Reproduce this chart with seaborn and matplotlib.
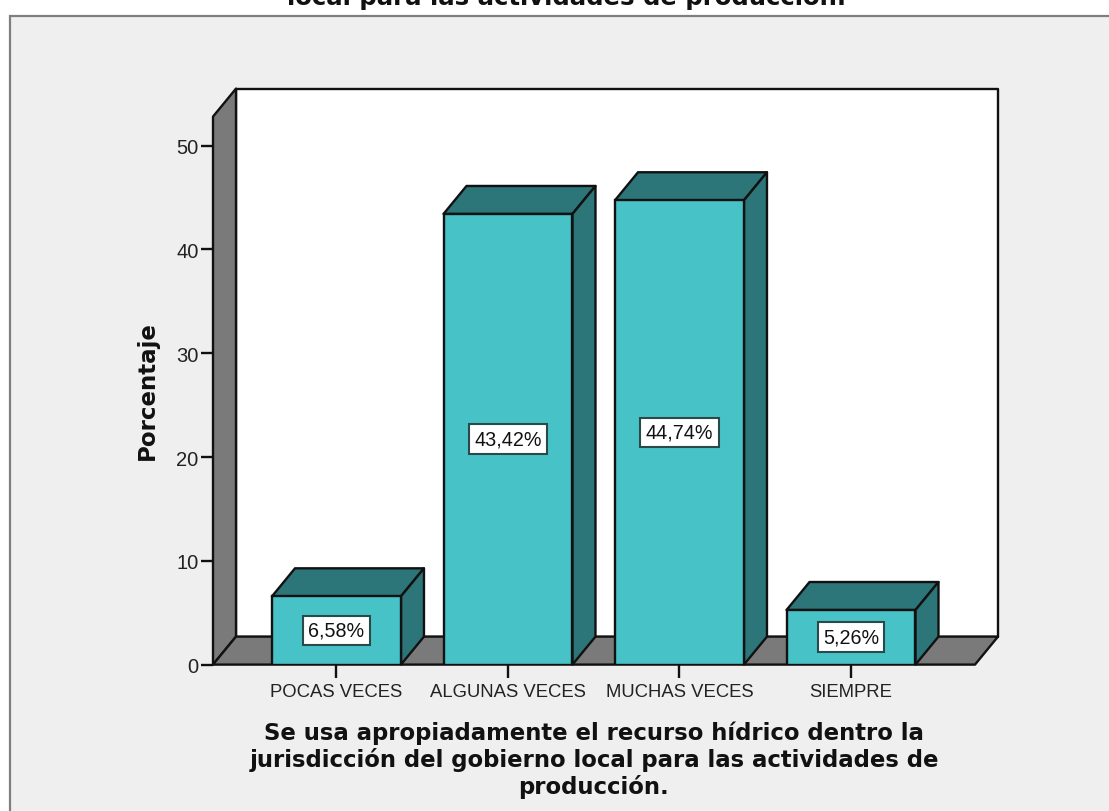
import matplotlib
matplotlib.use("Agg")
import matplotlib.pyplot as plt
from matplotlib.patches import Rectangle
import seaborn as sns

categories = ["POCAS VECES", "ALGUNAS VECES", "MUCHAS VECES", "SIEMPRE"]
percentages = [6.58, 43.42, 44.74, 5.26]
value_labels = ["6,58%", "43,42%", "44,74%", "5,26%"]
y_ticks = [0, 10, 20, 30, 40, 50]
title_top = "local para las actividades de producción."
x_title = ("Se usa apropiadamente el recurso hídrico dentro la\n"
           "jurisdicción del gobierno local para las actividades de\n"
           "producción.")
y_title = "Porcentaje"

W, H = 1109, 812
FRONT = "#47C3C8"
DARK = "#2C7578"
GRAY = "#7A7A7A"
PANEL = "#EFEFEF"
INK = "#111111"
LABEL_FONT = "DejaVu Sans"

sns.set_style("white")
plt.rcParams["font.family"] = ["Liberation Sans", "DejaVu Sans"]

fig = plt.figure(figsize=(W / 100, H / 100), dpi=100, facecolor="white")
fig.add_artist(Rectangle((10 / W, -0.02), 1.1, 1 - 16.5 / H + 0.02, transform=fig.transFigure,
                         facecolor=PANEL, edgecolor="#7f7f7f", linewidth=1.6, zorder=-1))

ax = fig.add_axes([213 / W, (H - 665.6) / H, 762 / W, 548 / H])
ax.patch.set_alpha(0)

sns.barplot(x=categories, y=percentages, color=FRONT, saturation=1, width=0.752,
            edgecolor=INK, linewidth=1.7, zorder=5, ax=ax)

x_lo, x_hi = -0.72, 3.723
y_hi = 52.8
ax.set_xlim(x_lo, x_hi)
ax.set_ylim(0, y_hi)
# depth of the fake 3d box, 23px across and 28px up
dx = 23 / 171.5
dy = 28 / 10.38

line = dict(edgecolor=INK, linewidth=1.7, clip_on=False, joinstyle="round")
ax.fill([x_lo + dx, x_hi + dx, x_hi + dx, x_lo + dx], [dy, dy, y_hi + dy, y_hi + dy],
        facecolor="white", zorder=1, **line)
ax.fill([x_lo, x_lo + dx, x_lo + dx, x_lo], [0, dy, y_hi + dy, y_hi],
        facecolor=GRAY, zorder=2, **line)
ax.fill([x_lo, x_hi, x_hi + dx, x_lo + dx], [0, 0, dy, dy],
        facecolor=GRAY, zorder=2, **line)

for bar, txt in zip(list(ax.patches), value_labels):
    x0, w, h = bar.get_x(), bar.get_width(), bar.get_height()
    ax.fill([x0, x0 + w, x0 + w + dx, x0 + dx], [h, h, h + dy, h + dy],
            facecolor=DARK, zorder=4, **line)
    ax.fill([x0 + w, x0 + w + dx, x0 + w + dx, x0 + w], [0, dy, h + dy, h],
            facecolor=DARK, zorder=4, **line)
    ax.text(x0 + w / 2, h / 2, txt, ha="center", va="center", fontsize=14.2, color=INK, zorder=7,
            bbox=dict(boxstyle="square,pad=0.27", facecolor="white", edgecolor="#2a4a4a", linewidth=1.5))

sns.despine(ax=ax, left=True, bottom=True, top=True, right=True)
ax.set_yticks(y_ticks)
ax.tick_params(axis="y", length=9, width=1.7, color=INK, pad=1.5, labelsize=14.5, labelcolor="#222222", left=True)
ax.tick_params(axis="x", length=9, width=1.7, color=INK, pad=4.5, labelsize=13.3, labelcolor="#222222", bottom=True)

fig.text(147 / W, 1 - 391 / H, y_title, rotation=90, ha="center", va="center", fontsize=16.5,
         fontweight="bold", family=LABEL_FONT, color=INK)
fig.text(594 / W, 1 - 760 / H, x_title, ha="center", va="center", fontsize=16.4, fontweight="bold",
         family=LABEL_FONT, color=INK, linespacing=1.15)
fig.text(567 / W, 1 - 4.5 / H, title_top, ha="center", va="baseline", fontsize=17.6, fontweight="bold",
         family=LABEL_FONT, color=INK)

fig.savefig("out.png", dpi=100)
